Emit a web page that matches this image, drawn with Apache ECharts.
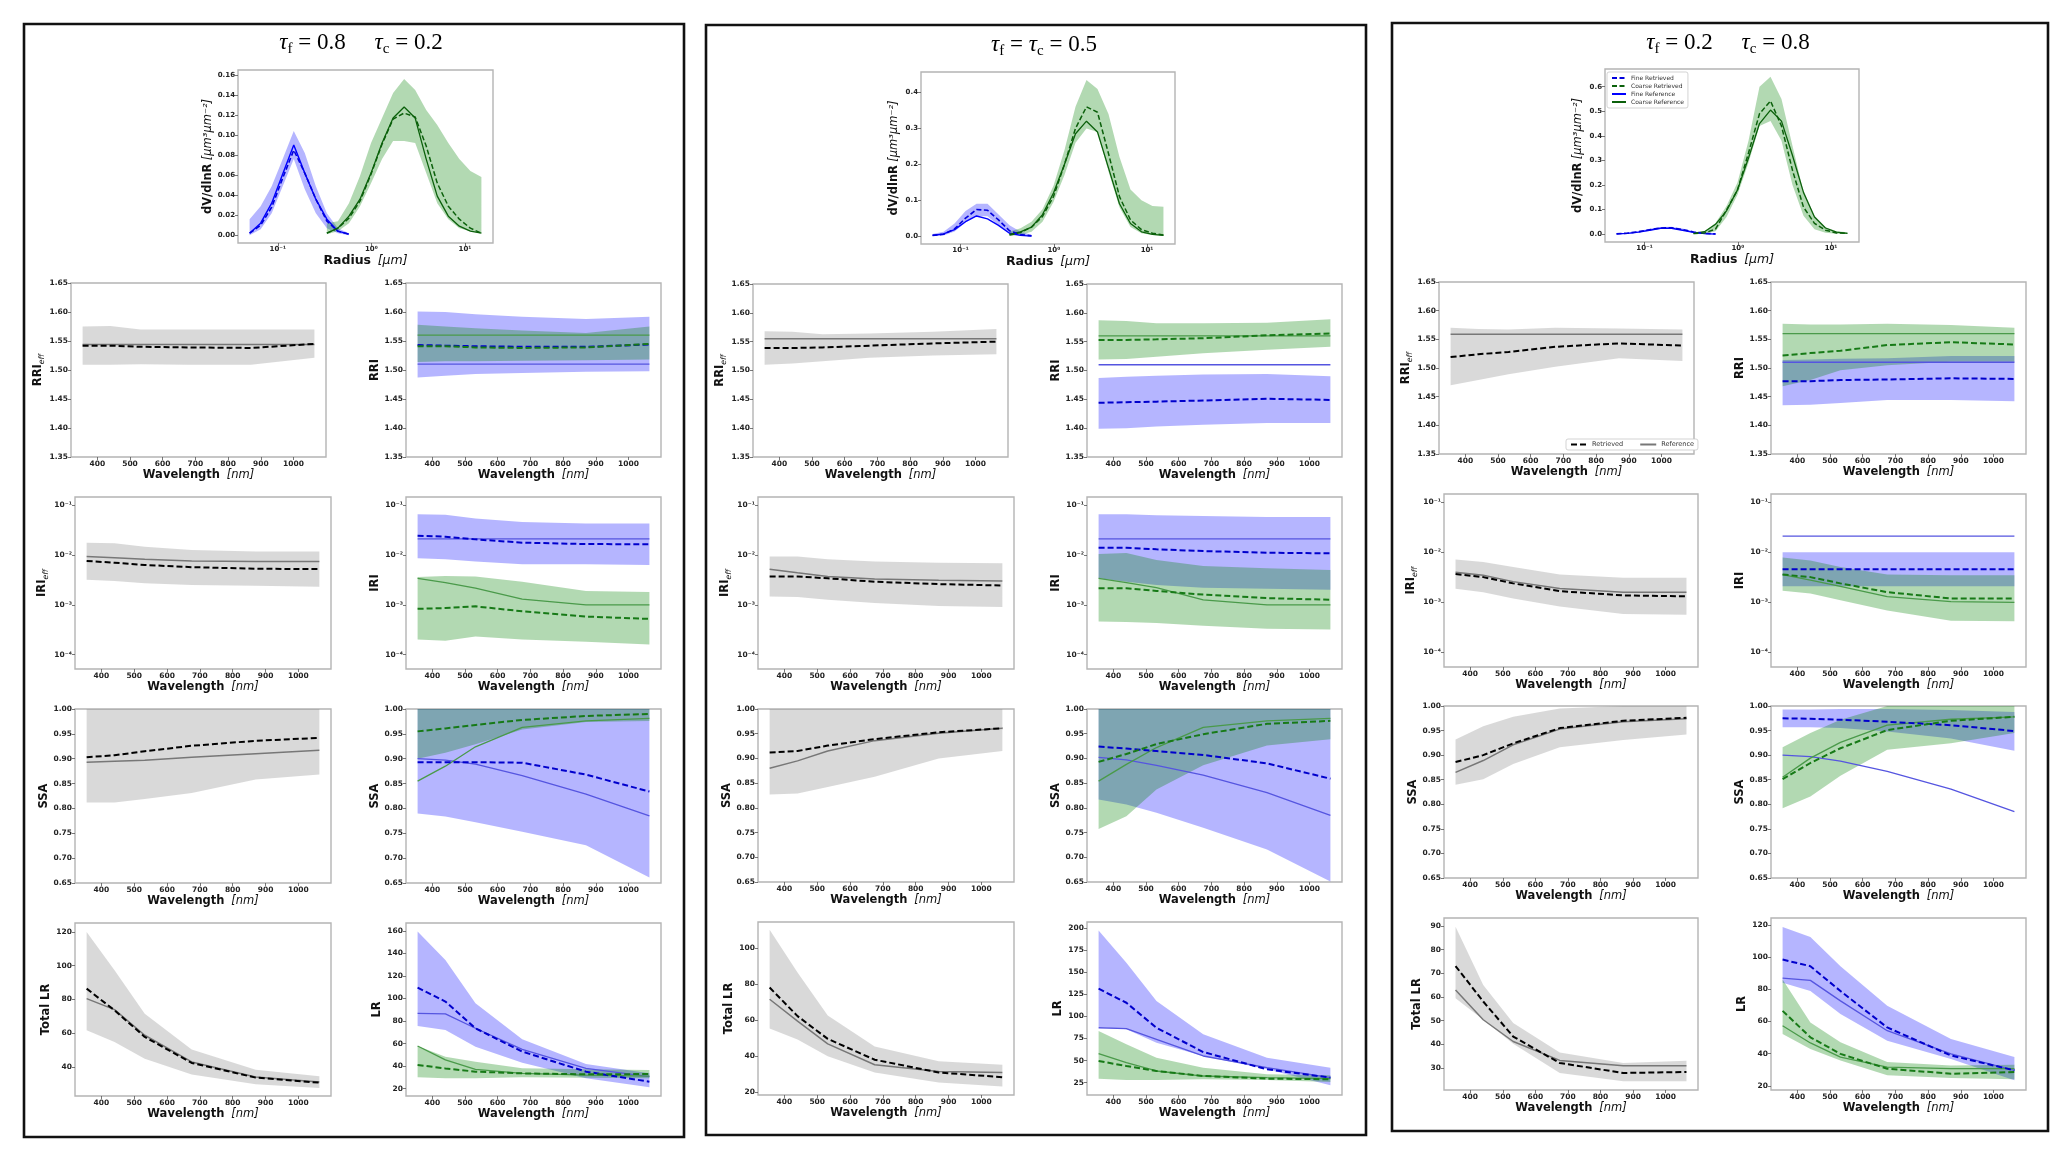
<!DOCTYPE html>
<html><head><meta charset="utf-8">
<script src="https://cdn.jsdelivr.net/npm/echarts@6/dist/echarts.min.js"></script>
<style>html,body{margin:0;padding:0;background:#fff}#c{width:2067px;height:1160px}</style>
</head><body><div id="c"></div>
<script>
// ---------------- DATA ----------------
const WL = [355, 440, 532, 675, 870, 1064];
const WL_TICKS = [400, 500, 600, 700, 800, 900, 1000];
const R_FINE = [0.05, 0.0656, 0.0861, 0.1129, 0.1482, 0.1944, 0.2551, 0.3347, 0.4392, 0.5763];
const R_COARSE = [0.3347, 0.4392, 0.5763, 0.7561, 0.9921, 1.3017, 1.708, 2.2411, 2.9406, 3.8585, 5.0629, 6.6433, 8.7171, 11.4381, 15.0];
const R_TICKS = [-1, 0, 1];
const RRI_TICKS = [1.35, 1.40, 1.45, 1.50, 1.55, 1.60, 1.65];
const IRI_TICKS = [-4, -3, -2, -1];
const SSA_TICKS = [0.65, 0.70, 0.75, 0.80, 0.85, 0.90, 0.95, 1.00];
const P1_SIZE_TICKS = [0, 0.02, 0.04, 0.06, 0.08, 0.10, 0.12, 0.14, 0.16];
const P2_SIZE_TICKS = [0, 0.1, 0.2, 0.3, 0.4];
const P3_SIZE_TICKS = [0, 0.1, 0.2, 0.3, 0.4, 0.5, 0.6];
const P1_TLR_TICKS = [40, 60, 80, 100, 120];
const P2_TLR_TICKS = [20, 40, 60, 80, 100];
const P3_TLR_TICKS = [30, 40, 50, 60, 70, 80, 90];
const P1_LR_TICKS = [20, 40, 60, 80, 100, 120, 140, 160];
const P2_LR_TICKS = [25, 50, 75, 100, 125, 150, 175, 200];
const P3_LR_TICKS = [20, 40, 60, 80, 100, 120];

// Panel 1 (tau_f = 0.8, tau_c = 0.2)
const p1SzFRet = [0.002, 0.010, 0.028, 0.057, 0.085, 0.062, 0.036, 0.014, 0.004, 0.001];
const p1SzFRef = [0.002, 0.012, 0.032, 0.061, 0.090, 0.062, 0.036, 0.016, 0.004, 0.001];
const p1SzFLo  = [0.000, 0.006, 0.022, 0.049, 0.076, 0.046, 0.022, 0.007, 0.002, 0.000];
const p1SzFHi  = [0.016, 0.029, 0.049, 0.076, 0.104, 0.082, 0.049, 0.022, 0.007, 0.002];
const p1SzCRet = [0.002, 0.007, 0.017, 0.034, 0.061, 0.091, 0.116, 0.122, 0.118, 0.089, 0.052, 0.029, 0.016, 0.007, 0.002];
const p1SzCRef = [0.002, 0.007, 0.019, 0.036, 0.062, 0.092, 0.117, 0.128, 0.117, 0.076, 0.039, 0.019, 0.009, 0.004, 0.002];
const p1SzCLo  = [0.001, 0.004, 0.012, 0.029, 0.052, 0.076, 0.094, 0.094, 0.092, 0.062, 0.032, 0.016, 0.007, 0.004, 0.002];
const p1SzCHi  = [0.012, 0.014, 0.032, 0.059, 0.092, 0.117, 0.142, 0.156, 0.145, 0.125, 0.110, 0.092, 0.076, 0.064, 0.058];

const p1RRIeffRet = [1.542, 1.542, 1.540, 1.539, 1.538, 1.545];
const p1RRIeffRef = [1.544, 1.544, 1.544, 1.544, 1.544, 1.544];
const p1RRIeffLo  = [1.509, 1.509, 1.510, 1.509, 1.509, 1.521];
const p1RRIeffHi  = [1.575, 1.576, 1.570, 1.570, 1.570, 1.570];
const p1RRIFRet = [1.543, 1.542, 1.541, 1.540, 1.540, 1.544];
const p1RRIFRef = [1.510, 1.510, 1.510, 1.510, 1.510, 1.510];
const p1RRIFLo  = [1.487, 1.490, 1.493, 1.495, 1.497, 1.498];
const p1RRIFHi  = [1.601, 1.600, 1.596, 1.592, 1.588, 1.592];
const p1RRICRet = [1.541, 1.541, 1.539, 1.538, 1.539, 1.545];
const p1RRICRef = [1.560, 1.560, 1.560, 1.560, 1.560, 1.560];
const p1RRICLo  = [1.514, 1.515, 1.515, 1.516, 1.517, 1.518];
const p1RRICHi  = [1.578, 1.575, 1.572, 1.568, 1.564, 1.575];

const p1IRIeffRet = [0.0076, 0.0070, 0.0063, 0.0057, 0.0053, 0.0052];
const p1IRIeffRef = [0.0093, 0.0088, 0.0082, 0.0076, 0.0074, 0.0074];
const p1IRIeffLo  = [0.0032, 0.0030, 0.0027, 0.0025, 0.0024, 0.0023];
const p1IRIeffHi  = [0.0177, 0.0172, 0.0147, 0.0126, 0.0117, 0.0117];
const p1IRIFRet = [0.0244, 0.0233, 0.0206, 0.0177, 0.0166, 0.0164];
const p1IRIFRef = [0.021, 0.021, 0.021, 0.021, 0.021, 0.021];
const p1IRIFLo  = [0.0086, 0.0082, 0.0074, 0.0065, 0.0065, 0.0063];
const p1IRIFHi  = [0.066, 0.064, 0.054, 0.046, 0.043, 0.043];
const p1IRICRet = [0.00083, 0.00086, 0.00093, 0.00074, 0.00058, 0.00052];
const p1IRICRef = [0.0034, 0.0028, 0.00215, 0.0013, 0.0010, 0.0010];
const p1IRICLo  = [0.00020, 0.00019, 0.00023, 0.00020, 0.00018, 0.00016];
const p1IRICHi  = [0.0036, 0.0038, 0.0037, 0.0029, 0.0019, 0.0018];

const p1SSAeffRet = [0.903, 0.907, 0.915, 0.926, 0.936, 0.942];
const p1SSAeffRef = [0.893, 0.895, 0.897, 0.903, 0.910, 0.917];
const p1SSAeffLo  = [0.812, 0.812, 0.819, 0.831, 0.858, 0.868];
const p1SSAeffHi  = [1.0, 1.0, 1.0, 1.0, 1.0, 1.0];
const p1SSAFRet = [0.893, 0.893, 0.893, 0.892, 0.868, 0.834];
const p1SSAFRef = [0.900, 0.897, 0.889, 0.866, 0.829, 0.785];
const p1SSAFLo  = [0.790, 0.784, 0.772, 0.753, 0.726, 0.661];
const p1SSAFHi  = [1.0, 1.0, 1.0, 1.0, 1.0, 1.0];
const p1SSACRet = [0.955, 0.961, 0.968, 0.978, 0.986, 0.990];
const p1SSACRef = [0.855, 0.885, 0.924, 0.963, 0.976, 0.981];
const p1SSACLo  = [0.900, 0.912, 0.929, 0.959, 0.974, 0.976];
const p1SSACHi  = [1.0, 1.0, 1.0, 1.0, 1.0, 1.0];

const p1TLRRet = [86.4, 73.6, 57.8, 42.4, 33.7, 30.7];
const p1TLRRef = [80.5, 74.0, 58.8, 43.0, 34.0, 31.1];
const p1TLRLo  = [61.7, 54.8, 44.9, 35.5, 29.7, 27.6];
const p1TLRHi  = [120.0, 97.3, 71.6, 50.3, 38.4, 34.5];
const p1LRFRet = [109.7, 97.3, 73.6, 52.9, 35.1, 26.2];
const p1LRFRef = [86.9, 86.3, 73.6, 54.9, 38.0, 30.7];
const p1LRFLo  = [75.6, 72.0, 57.3, 43.1, 29.2, 21.2];
const p1LRFHi  = [159.4, 134.2, 95.8, 63.8, 41.9, 33.6];
const p1LRCRet = [41.0, 38.0, 35.1, 33.6, 32.7, 33.0];
const p1LRCRef = [57.9, 45.5, 37.2, 33.6, 32.1, 31.2];
const p1LRCLo  = [30.1, 29.2, 29.2, 30.1, 29.8, 29.2];
const p1LRCHi  = [57.9, 48.4, 44.0, 38.1, 37.2, 36.6];

// Panel 2 (tau_f = tau_c = 0.5)
const p2SzFRet = [0.002, 0.005, 0.020, 0.050, 0.074, 0.072, 0.045, 0.015, 0.004, 0.001];
const p2SzFRef = [0.002, 0.006, 0.018, 0.040, 0.056, 0.048, 0.030, 0.008, 0.002, 0.000];
const p2SzFLo  = [0.000, 0.002, 0.013, 0.038, 0.056, 0.055, 0.030, 0.008, 0.001, 0.000];
const p2SzFHi  = [0.006, 0.012, 0.035, 0.070, 0.090, 0.090, 0.060, 0.030, 0.012, 0.004];
const p2SzCRet = [0.003, 0.010, 0.025, 0.055, 0.110, 0.200, 0.300, 0.360, 0.345, 0.230, 0.110, 0.045, 0.018, 0.008, 0.003];
const p2SzCRef = [0.005, 0.012, 0.025, 0.060, 0.120, 0.200, 0.285, 0.320, 0.290, 0.190, 0.090, 0.035, 0.012, 0.005, 0.002];
const p2SzCLo  = [0.000, 0.003, 0.012, 0.040, 0.095, 0.170, 0.260, 0.300, 0.290, 0.180, 0.080, 0.025, 0.008, 0.003, 0.001];
const p2SzCHi  = [0.012, 0.022, 0.040, 0.075, 0.140, 0.240, 0.360, 0.435, 0.410, 0.340, 0.220, 0.130, 0.100, 0.084, 0.082];

const p2RRIeffRet = [1.539, 1.539, 1.540, 1.543, 1.547, 1.550];
const p2RRIeffRef = [1.555, 1.555, 1.555, 1.555, 1.555, 1.555];
const p2RRIeffLo  = [1.510, 1.512, 1.516, 1.522, 1.526, 1.528];
const p2RRIeffHi  = [1.568, 1.567, 1.563, 1.564, 1.567, 1.572];
const p2RRIFRet = [1.444, 1.445, 1.446, 1.448, 1.451, 1.449];
const p2RRIFRef = [1.510, 1.510, 1.510, 1.510, 1.510, 1.510];
const p2RRIFLo  = [1.399, 1.400, 1.403, 1.406, 1.409, 1.409];
const p2RRIFHi  = [1.487, 1.489, 1.491, 1.493, 1.494, 1.490];
const p2RRICRet = [1.553, 1.553, 1.554, 1.556, 1.561, 1.564];
const p2RRICRef = [1.560, 1.560, 1.560, 1.560, 1.560, 1.560];
const p2RRICLo  = [1.519, 1.520, 1.524, 1.530, 1.536, 1.541];
const p2RRICHi  = [1.587, 1.586, 1.582, 1.582, 1.583, 1.589];

const p2IRIeffRet = [0.0037, 0.0037, 0.0034, 0.0029, 0.0026, 0.00244];
const p2IRIeffRef = [0.0052, 0.0044, 0.0037, 0.0033, 0.0031, 0.0030];
const p2IRIeffLo  = [0.00147, 0.00144, 0.00126, 0.00108, 0.00095, 0.0009];
const p2IRIeffHi  = [0.0093, 0.0093, 0.0082, 0.0074, 0.0070, 0.0068];
const p2IRIFRet = [0.0140, 0.0140, 0.0130, 0.0120, 0.0111, 0.0108];
const p2IRIFRef = [0.021, 0.021, 0.021, 0.021, 0.021, 0.021];
const p2IRIFLo  = [0.0034, 0.0029, 0.0025, 0.0022, 0.0021, 0.0020];
const p2IRIFHi  = [0.066, 0.066, 0.063, 0.061, 0.058, 0.058];
const p2IRICRet = [0.00215, 0.00215, 0.0019, 0.0016, 0.00136, 0.00126];
const p2IRICRef = [0.0034, 0.0028, 0.0022, 0.00126, 0.0010, 0.0010];
const p2IRICLo  = [0.00046, 0.00045, 0.00043, 0.00038, 0.00033, 0.00032];
const p2IRICHi  = [0.0105, 0.0110, 0.0079, 0.0060, 0.0054, 0.0050];

const p2SSAeffRet = [0.912, 0.915, 0.926, 0.939, 0.953, 0.961];
const p2SSAeffRef = [0.880, 0.895, 0.915, 0.936, 0.951, 0.961];
const p2SSAeffLo  = [0.827, 0.829, 0.842, 0.863, 0.900, 0.915];
const p2SSAeffHi  = [1.0, 1.0, 1.0, 1.0, 1.0, 1.0];
const p2SSAFRet = [0.924, 0.920, 0.915, 0.907, 0.890, 0.859];
const p2SSAFRef = [0.902, 0.897, 0.886, 0.866, 0.831, 0.785];
const p2SSAFLo  = [0.817, 0.807, 0.790, 0.760, 0.716, 0.651];
const p2SSAFHi  = [1.0, 1.0, 1.0, 1.0, 1.0, 1.0];
const p2SSACRet = [0.893, 0.909, 0.929, 0.949, 0.970, 0.976];
const p2SSACRef = [0.854, 0.888, 0.922, 0.963, 0.976, 0.981];
const p2SSACLo  = [0.757, 0.783, 0.837, 0.886, 0.926, 0.939];
const p2SSACHi  = [1.0, 1.0, 1.0, 1.0, 1.0, 1.0];

const p2TLRRet = [78.2, 62.3, 49.7, 38.1, 31.0, 28.4];
const p2TLRRef = [71.7, 59.5, 46.9, 35.3, 31.6, 31.0];
const p2TLRLo  = [55.4, 49.3, 40.0, 31.0, 25.4, 23.2];
const p2TLRHi  = [110.3, 86.6, 62.7, 45.5, 37.2, 35.3];
const p2LRFRet = [131.4, 115.5, 87.2, 59.7, 40.1, 30.7];
const p2LRFRef = [87.2, 86.1, 74.0, 55.2, 42.0, 30.7];
const p2LRFLo  = [88.0, 85.4, 70.3, 55.2, 40.1, 22.0];
const p2LRFHi  = [197.4, 160.8, 117.4, 79.7, 53.3, 42.0];
const p2LRCRet = [49.5, 43.9, 38.2, 32.5, 29.5, 28.8];
const p2LRCRef = [57.8, 47.6, 38.2, 32.5, 30.7, 29.5];
const p2LRCLo  = [29.5, 28.0, 28.0, 28.8, 28.0, 25.8];
const p2LRCHi  = [83.5, 68.4, 53.3, 42.0, 34.4, 33.3];

// Panel 3 (tau_f = 0.2, tau_c = 0.8)
const p3SzFRet = [0.001, 0.004, 0.010, 0.018, 0.025, 0.026, 0.019, 0.009, 0.003, 0.001];
const p3SzFRef = [0.001, 0.003, 0.008, 0.016, 0.024, 0.024, 0.016, 0.007, 0.002, 0.000];
const p3SzFLo  = [0.000, 0.001, 0.006, 0.014, 0.021, 0.022, 0.015, 0.005, 0.001, 0.000];
const p3SzFHi  = [0.003, 0.006, 0.013, 0.022, 0.029, 0.030, 0.023, 0.012, 0.005, 0.002];
const p3SzCRet = [0.003, 0.005, 0.020, 0.098, 0.180, 0.330, 0.490, 0.542, 0.440, 0.260, 0.110, 0.044, 0.016, 0.005, 0.003];
const p3SzCRef = [0.003, 0.010, 0.040, 0.095, 0.180, 0.310, 0.450, 0.505, 0.460, 0.320, 0.170, 0.070, 0.025, 0.008, 0.003];
const p3SzCLo  = [0.000, 0.002, 0.012, 0.070, 0.160, 0.290, 0.440, 0.460, 0.380, 0.200, 0.075, 0.020, 0.006, 0.002, 0.001];
const p3SzCHi  = [0.006, 0.012, 0.045, 0.115, 0.210, 0.380, 0.600, 0.640, 0.550, 0.360, 0.170, 0.075, 0.028, 0.012, 0.008];

const p3RRIeffRet = [1.519, 1.524, 1.528, 1.537, 1.543, 1.539];
const p3RRIeffRef = [1.559, 1.559, 1.559, 1.559, 1.559, 1.559];
const p3RRIeffLo  = [1.470, 1.479, 1.489, 1.502, 1.517, 1.512];
const p3RRIeffHi  = [1.570, 1.568, 1.567, 1.570, 1.569, 1.567];
const p3RRIFRet = [1.477, 1.477, 1.479, 1.480, 1.482, 1.481];
const p3RRIFRef = [1.510, 1.510, 1.510, 1.510, 1.510, 1.510];
const p3RRIFLo  = [1.435, 1.436, 1.439, 1.444, 1.444, 1.442];
const p3RRIFHi  = [1.514, 1.515, 1.516, 1.517, 1.521, 1.521];
const p3RRICRet = [1.522, 1.526, 1.530, 1.540, 1.545, 1.541];
const p3RRICRef = [1.560, 1.560, 1.560, 1.560, 1.560, 1.560];
const p3RRICLo  = [1.468, 1.479, 1.496, 1.505, 1.511, 1.511];
const p3RRICHi  = [1.577, 1.576, 1.576, 1.577, 1.575, 1.570];

const p3IRIeffRet = [0.0037, 0.0032, 0.0024, 0.00168, 0.00138, 0.00132];
const p3IRIeffRef = [0.0040, 0.0035, 0.0026, 0.0019, 0.0016, 0.0016];
const p3IRIeffLo  = [0.00187, 0.0016, 0.0012, 0.00083, 0.00059, 0.00057];
const p3IRIeffHi  = [0.0072, 0.0064, 0.0051, 0.0036, 0.0031, 0.0031];
const p3IRIFRet = [0.0046, 0.0046, 0.0046, 0.0046, 0.0046, 0.0046];
const p3IRIFRef = [0.0211, 0.0211, 0.0211, 0.0211, 0.0211, 0.0211];
const p3IRIFLo  = [0.0021, 0.0021, 0.0021, 0.0021, 0.0021, 0.0021];
const p3IRIFHi  = [0.0100, 0.0100, 0.0100, 0.0100, 0.0100, 0.0100];
const p3IRICRet = [0.0036, 0.0032, 0.0024, 0.0016, 0.0012, 0.0012];
const p3IRICRef = [0.0036, 0.0028, 0.0021, 0.0013, 0.00104, 0.0010];
const p3IRICLo  = [0.0017, 0.0015, 0.0011, 0.00069, 0.00043, 0.00042];
const p3IRICHi  = [0.0079, 0.0069, 0.0051, 0.0036, 0.0035, 0.0035];

const p3SSAeffRet = [0.886, 0.900, 0.924, 0.955, 0.970, 0.976];
const p3SSAeffRef = [0.865, 0.889, 0.921, 0.953, 0.968, 0.974];
const p3SSAeffLo  = [0.840, 0.851, 0.882, 0.916, 0.931, 0.942];
const p3SSAeffHi  = [0.932, 0.959, 0.978, 0.995, 1.0, 1.0];
const p3SSAFRet = [0.975, 0.974, 0.972, 0.968, 0.961, 0.949];
const p3SSAFRef = [0.900, 0.897, 0.888, 0.867, 0.831, 0.785];
const p3SSAFLo  = [0.957, 0.957, 0.955, 0.948, 0.934, 0.909];
const p3SSAFHi  = [0.993, 0.993, 0.994, 0.994, 0.992, 0.988];
const p3SSACRet = [0.851, 0.884, 0.914, 0.951, 0.970, 0.978];
const p3SSACRef = [0.855, 0.894, 0.926, 0.961, 0.973, 0.978];
const p3SSACLo  = [0.792, 0.816, 0.858, 0.911, 0.924, 0.945];
const p3SSACHi  = [0.916, 0.945, 0.972, 1.0, 1.0, 1.0];

const p3TLRRet = [73.1, 58.1, 43.3, 32.1, 27.9, 28.3];
const p3TLRRef = [63.0, 50.4, 41.2, 33.2, 31.0, 31.0];
const p3TLRLo  = [59.5, 50.4, 40.3, 27.9, 24.4, 24.4];
const p3TLRHi  = [89.7, 65.1, 49.0, 36.6, 32.1, 33.1];
const p3LRFRet = [98.4, 94.3, 78.9, 56.3, 38.9, 29.7];
const p3LRFRef = [86.9, 85.5, 72.8, 54.3, 39.9, 29.7];
const p3LRFLo  = [84.1, 78.9, 64.6, 48.1, 36.8, 23.5];
const p3LRFHi  = [118.6, 112.4, 94.3, 69.7, 49.2, 37.9];
const p3LRCRet = [66.6, 50.2, 39.9, 30.7, 27.6, 28.6];
const p3LRCRef = [57.4, 46.7, 37.9, 31.7, 30.7, 30.7];
const p3LRCLo  = [52.2, 43.0, 35.8, 26.6, 24.9, 24.1];
const p3LRCHi  = [86.1, 59.4, 47.1, 34.8, 32.7, 33.1];

const TITLES = [
  '{m|τ}{s|f}{t| = 0.8     }{m|τ}{s|c}{t| = 0.2}',
  '{m|τ}{s|f}{t| = }{m|τ}{s|c}{t| = 0.5}',
  '{m|τ}{s|f}{t| = 0.2     }{m|τ}{s|c}{t| = 0.8}'
];

// ---------------- LAYOUT / STYLE ----------------
const LAYOUT = [
  {border:[24,24,684,1137], title:[361,43], size:[238,70,493,243],
   rows:[[283,457],[497,669],[709,883],[923,1096]], leftR1:[71,326], left:[75,331], right:[406,661]},
  {border:[706,25,1366,1135], title:[1044,45], size:[921,72,1175,244],
   rows:[[284,457],[497,669],[709,882],[922,1095]], leftR1:[753,1008], left:[758,1014], right:[1087,1342]},
  {border:[1392,23,2048,1131], title:[1728,43], size:[1605,69,1859,242],
   rows:[[282,454],[494,667],[706,878],[918,1090]], leftR1:[1439,1694], left:[1444,1698], right:[1771,2026]}
];
const FONT = "'DejaVu Sans', sans-serif";
const SERIF = "'Liberation Serif', 'DejaVu Serif', serif";
const GRAY_BAND = 'rgba(128,128,128,0.30)';
const BLUE_BAND = 'rgba(0,0,255,0.29)';
const GREEN_BAND = 'rgba(0,128,0,0.30)';
const ST = {
  ret:  {color:'#000000', width:2, type:[6,3]},
  ref:  {color:'#777777', width:1.5, type:'solid'},
  fRet: {color:'#0000cc', width:2, type:[6,3]},
  fRef: {color:'#5555e0', width:1.3, type:'solid'},
  cRet: {color:'#177a17', width:2, type:[6,3]},
  cRef: {color:'#4a9a4a', width:1.3, type:'solid'},
  sfRet:{color:'#0000dd', width:1.6, type:[5,2.5]},
  sfRef:{color:'#0000ff', width:1.4, type:'solid'},
  scRet:{color:'#0b600b', width:1.5, type:[5,2.5]},
  scRef:{color:'#0b600b', width:1.3, type:'solid'}
};

const SUP = {'-':'⁻','0':'⁰','1':'¹','2':'²','3':'³','4':'⁴','5':'⁵'};
const supFmt = v => '10' + String(Math.round(v)).split('').map(c => SUP[c]).join('');
const ID = v => v;
const LOG = v => Math.log10(v);

function axisRich(sz) {
  return {
    b: {fontSize: sz, fontWeight: 'bold', fontFamily: FONT, color: '#111', lineHeight: 16},
    i: {fontSize: sz, fontStyle: 'italic', fontFamily: FONT, color: '#111', lineHeight: 16},
    s: {fontSize: sz * 0.68, fontStyle: 'italic', fontFamily: FONT, color: '#111', lineHeight: 9, verticalAlign: 'bottom'}
  };
}
const TITLE_RICH = {
  t: {fontSize: 23, fontFamily: SERIF, color: '#000', lineHeight: 28},
  m: {fontSize: 23, fontStyle: 'italic', fontFamily: SERIF, color: '#000', lineHeight: 28},
  s: {fontSize: 15, fontFamily: SERIF, color: '#000', lineHeight: 12, verticalAlign: 'bottom'}
};

const grids = [], xAxes = [], yAxes = [], series = [], graphics = [];

function addGrid(r) {
  grids.push({left: r[0], top: r[1], width: r[2] - r[0], height: r[3] - r[1], show: true,
    backgroundColor: '#fff', borderColor: '#b4b4b4', borderWidth: 1.4, containLabel: false});
  return grids.length - 1;
}
function tickLabel(fmt, ticks, sz) {
  return {customValues: ticks, formatter: fmt, fontSize: sz, fontWeight: 'bold', color: '#222', fontFamily: FONT, margin: 3};
}
function tickLine(ticks) {
  return {show: true, customValues: ticks, length: 3, lineStyle: {color: '#555', width: 0.8}};
}
function addX(gi, min, max, ticks, fmt, name, nsz, lsz) {
  xAxes.push({gridIndex: gi, type: 'value', position: 'bottom', min: min, max: max,
    axisLine: {show: false, onZero: false}, splitLine: {show: false},
    axisTick: tickLine(ticks), axisLabel: tickLabel(fmt, ticks, lsz),
    name: name, nameLocation: 'middle', nameGap: 9, nameTextStyle: {rich: axisRich(nsz)}});
}
function addY(gi, min, max, ticks, fmt, name, nsz, lsz) {
  yAxes.push({gridIndex: gi, type: 'value', position: 'left', min: min, max: max,
    axisLine: {show: false, onZero: false}, splitLine: {show: false},
    axisTick: tickLine(ticks), axisLabel: tickLabel(fmt, ticks, lsz),
    name: name, nameLocation: 'middle', nameGap: 19, nameTextStyle: {rich: axisRich(nsz)}});
}
// shaded uncertainty band: one polygon built through the axes' scales (api.coord)
function addBand(gi, xs, lo, hi, color, f) {
  const pts = xs.map((x, i) => [x, f(lo[i]), f(hi[i])]);
  series.push({type: 'custom', xAxisIndex: gi, yAxisIndex: gi, silent: true, clip: true, z: 1,
    data: pts,
    renderItem: function (params, api) {
      if (params.dataIndex !== 0) return null;
      const up = pts.map(p => api.coord([p[0], p[2]]));
      const dn = pts.map(p => api.coord([p[0], p[1]])).reverse();
      return {type: 'polygon', shape: {points: up.concat(dn)}, style: {fill: color, stroke: null}};
    }});
}
function addLine(gi, xs, ys, st, name, f) {
  series.push({type: 'line', name: name, xAxisIndex: gi, yAxisIndex: gi, data: xs.map((x, i) => [x, f(ys[i])]),
    symbol: 'none', showSymbol: false, silent: true, z: 3,
    lineStyle: {color: st.color, width: st.width, type: st.type}, itemStyle: {color: st.color}});
}

const fmt2 = v => v.toFixed(2), fmt1 = v => v.toFixed(1), fmt0 = v => String(Math.round(v));
const WL_NAME = '{b|Wavelength}  {i|[nm]}';

const PANELS = [
  {size: [p1SzFRet, p1SzFRef, p1SzFLo, p1SzFHi, p1SzCRet, p1SzCRef, p1SzCLo, p1SzCHi],
   szRange: [-0.0078, 0.165], szTicks: P1_SIZE_TICKS, szFmt: fmt2,
   tlrRange: [22.8, 125.3], tlrTicks: P1_TLR_TICKS, lrRange: [13.5, 167], lrTicks: P1_LR_TICKS,
   left: [[p1RRIeffRet, p1RRIeffRef, p1RRIeffLo, p1RRIeffHi], [p1IRIeffRet, p1IRIeffRef, p1IRIeffLo, p1IRIeffHi],
          [p1SSAeffRet, p1SSAeffRef, p1SSAeffLo, p1SSAeffHi], [p1TLRRet, p1TLRRef, p1TLRLo, p1TLRHi]],
   right: [[p1RRIFRet, p1RRIFRef, p1RRIFLo, p1RRIFHi, p1RRICRet, p1RRICRef, p1RRICLo, p1RRICHi],
           [p1IRIFRet, p1IRIFRef, p1IRIFLo, p1IRIFHi, p1IRICRet, p1IRICRef, p1IRICLo, p1IRICHi],
           [p1SSAFRet, p1SSAFRef, p1SSAFLo, p1SSAFHi, p1SSACRet, p1SSACRef, p1SSACLo, p1SSACHi],
           [p1LRFRet, p1LRFRef, p1LRFLo, p1LRFHi, p1LRCRet, p1LRCRef, p1LRCLo, p1LRCHi]]},
  {size: [p2SzFRet, p2SzFRef, p2SzFLo, p2SzFHi, p2SzCRet, p2SzCRef, p2SzCLo, p2SzCHi],
   szRange: [-0.022, 0.457], szTicks: P2_SIZE_TICKS, szFmt: fmt1,
   tlrRange: [18.5, 114.6], tlrTicks: P2_TLR_TICKS, lrRange: [11, 207], lrTicks: P2_LR_TICKS,
   left: [[p2RRIeffRet, p2RRIeffRef, p2RRIeffLo, p2RRIeffHi], [p2IRIeffRet, p2IRIeffRef, p2IRIeffLo, p2IRIeffHi],
          [p2SSAeffRet, p2SSAeffRef, p2SSAeffLo, p2SSAeffHi], [p2TLRRet, p2TLRRef, p2TLRLo, p2TLRHi]],
   right: [[p2RRIFRet, p2RRIFRef, p2RRIFLo, p2RRIFHi, p2RRICRet, p2RRICRef, p2RRICLo, p2RRICHi],
           [p2IRIFRet, p2IRIFRef, p2IRIFLo, p2IRIFHi, p2IRICRet, p2IRICRef, p2IRICLo, p2IRICHi],
           [p2SSAFRet, p2SSAFRef, p2SSAFLo, p2SSAFHi, p2SSACRet, p2SSACRef, p2SSACLo, p2SSACHi],
           [p2LRFRet, p2LRFRef, p2LRFLo, p2LRFHi, p2LRCRet, p2LRCRef, p2LRCLo, p2LRCHi]]},
  {size: [p3SzFRet, p3SzFRef, p3SzFLo, p3SzFHi, p3SzCRet, p3SzCRef, p3SzCLo, p3SzCHi],
   szRange: [-0.032, 0.672], szTicks: P3_SIZE_TICKS, szFmt: fmt1,
   tlrRange: [20.7, 93.4], tlrTicks: P3_TLR_TICKS, lrRange: [17.5, 124.2], lrTicks: P3_LR_TICKS,
   left: [[p3RRIeffRet, p3RRIeffRef, p3RRIeffLo, p3RRIeffHi], [p3IRIeffRet, p3IRIeffRef, p3IRIeffLo, p3IRIeffHi],
          [p3SSAeffRet, p3SSAeffRef, p3SSAeffLo, p3SSAeffHi], [p3TLRRet, p3TLRRef, p3TLRLo, p3TLRHi]],
   right: [[p3RRIFRet, p3RRIFRef, p3RRIFLo, p3RRIFHi, p3RRICRet, p3RRICRef, p3RRICLo, p3RRICHi],
           [p3IRIFRet, p3IRIFRef, p3IRIFLo, p3IRIFHi, p3IRICRet, p3IRICRef, p3IRICLo, p3IRICHi],
           [p3SSAFRet, p3SSAFRef, p3SSAFLo, p3SSAFHi, p3SSACRet, p3SSACRef, p3SSACLo, p3SSACHi],
           [p3LRFRet, p3LRFRef, p3LRFLo, p3LRFHi, p3LRCRet, p3LRCRef, p3LRCLo, p3LRCHi]]}
];

PANELS.forEach((D, p) => {
  const L = LAYOUT[p];
  graphics.push({type: 'rect', shape: {x: L.border[0], y: L.border[1], width: L.border[2] - L.border[0], height: L.border[3] - L.border[1]},
    style: {fill: 'none', stroke: '#111', lineWidth: 2.6}, silent: true, z: 50});
  graphics.push({type: 'text', x: L.title[0], y: L.title[1], silent: true, z: 50,
    style: {text: TITLES[p], rich: TITLE_RICH, align: 'center', verticalAlign: 'middle'}});

  // size distribution
  let gi = addGrid(L.size);
  addX(gi, -1.425, 1.30, R_TICKS, supFmt, '{b|Radius}  {i|[μm]}', 12.5, 7);
  addY(gi, D.szRange[0], D.szRange[1], D.szTicks, D.szFmt, '{b|dV/dlnR} {i|[μm³μm⁻²]}', 11.5, 7);
  const lf = R_FINE.map(Math.log10), lc = R_COARSE.map(Math.log10);
  const s = D.size;
  addBand(gi, lf, s[2], s[3], BLUE_BAND, ID);
  addBand(gi, lc, s[6], s[7], GREEN_BAND, ID);
  addLine(gi, lf, s[1], ST.sfRef, 'Fine Reference', ID);
  addLine(gi, lc, s[5], ST.scRef, 'Coarse Reference', ID);
  addLine(gi, lf, s[0], ST.sfRet, 'Fine Retrieved', ID);
  addLine(gi, lc, s[4], ST.scRet, 'Coarse Retrieved', ID);

  const rowCfg = [
    {range: [1.35, 1.65], ticks: RRI_TICKS, fmt: fmt2, f: ID, ln: '{b|RRI}{s|eff}', rn: '{b|RRI}'},
    {range: [-4.29, -0.835], ticks: IRI_TICKS, fmt: supFmt, f: LOG, ln: '{b|IRI}{s|eff}', rn: '{b|IRI}'},
    {range: [0.65, 1.0], ticks: SSA_TICKS, fmt: fmt2, f: ID, ln: '{b|SSA}', rn: '{b|SSA}'},
    {range: D.tlrRange, ticks: D.tlrTicks, rrange: D.lrRange, rticks: D.lrTicks, fmt: fmt0, f: ID, ln: '{b|Total LR}', rn: '{b|LR}'}
  ];
  rowCfg.forEach((c, r) => {
    const top = L.rows[r][0], bot = L.rows[r][1];
    const lx = r === 0 ? L.leftR1 : L.left;
    gi = addGrid([lx[0], top, lx[1], bot]);
    addX(gi, 319.55, 1099.45, WL_TICKS, fmt0, WL_NAME, 11.5, 7.5);
    addY(gi, c.range[0], c.range[1], c.ticks, c.fmt, c.ln, 11.5, 7.5);
    const a = D.left[r];
    addBand(gi, WL, a[2], a[3], GRAY_BAND, c.f);
    addLine(gi, WL, a[1], ST.ref, 'Reference', c.f);
    addLine(gi, WL, a[0], ST.ret, 'Retrieved', c.f);

    gi = addGrid([L.right[0], top, L.right[1], bot]);
    addX(gi, 319.55, 1099.45, WL_TICKS, fmt0, WL_NAME, 11.5, 7.5);
    const rr = c.rrange || c.range, rt = c.rticks || c.ticks;
    addY(gi, rr[0], rr[1], rt, c.fmt, c.rn, 11.5, 7.5);
    const b = D.right[r];
    addBand(gi, WL, b[2], b[3], BLUE_BAND, c.f);
    addBand(gi, WL, b[6], b[7], GREEN_BAND, c.f);
    addLine(gi, WL, b[1], ST.fRef, 'fine reference', c.f);
    addLine(gi, WL, b[5], ST.cRef, 'coarse reference', c.f);
    addLine(gi, WL, b[0], ST.fRet, 'fine retrieved', c.f);
    addLine(gi, WL, b[4], ST.cRet, 'coarse retrieved', c.f);
  });
});

const chart = echarts.init(document.getElementById('c'), null, {renderer: 'canvas'});
chart.setOption({
  animation: false,
  backgroundColor: '#fff',
  grid: grids, xAxis: xAxes, yAxis: yAxes, series: series, graphic: graphics,
  legend: [
    {data: ['Fine Retrieved', 'Coarse Retrieved', 'Fine Reference', 'Coarse Reference'], orient: 'vertical',
     left: 1607, top: 72, itemWidth: 14, itemHeight: 6, itemGap: 2, padding: [3, 4],
     itemStyle: {opacity: 0},
     textStyle: {fontSize: 6, color: '#333', fontFamily: FONT}, backgroundColor: '#fff',
     borderColor: '#c8c8c8', borderWidth: 0.8, borderRadius: 2, selectedMode: false, z: 20},
    {data: ['Retrieved', 'Reference'], orient: 'horizontal',
     left: 1566, top: 439, itemWidth: 16, itemHeight: 6, itemGap: 16, padding: [2, 4],
     itemStyle: {opacity: 0},
     textStyle: {fontSize: 6.5, color: '#333', fontFamily: FONT}, backgroundColor: '#fff',
     borderColor: '#c8c8c8', borderWidth: 0.8, borderRadius: 2, selectedMode: false, z: 20}
  ]
});
</script></body></html>
